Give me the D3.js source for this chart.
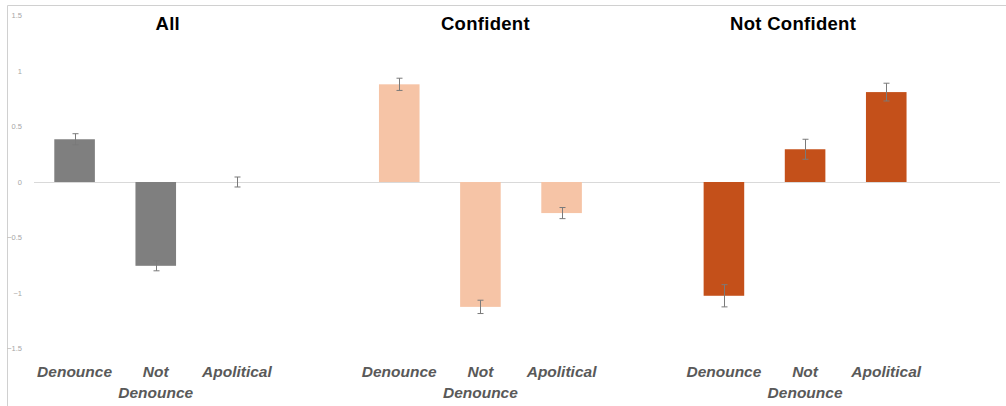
<!DOCTYPE html>
<html>
<head>
<meta charset="utf-8">
<script src="https://cdn.jsdelivr.net/npm/d3@7"></script>
<style>
  html, body { margin: 0; padding: 0; background: #fff; }
  svg { display: block; }
</style>
</head>
<body>
<svg id="chart" width="1006" height="406"></svg>
<script>
// Panels, categories and the plotted means with their error margins
const groups = ["All", "Confident", "Not Confident"];
const categories = ["Denounce", "Not Denounce", "Apolitical"];
const categoryLines = [["Denounce"], ["Not", "Denounce"], ["Apolitical"]];
const meansAll = [0.385, -0.755, 0.0];
const meansConfident = [0.88, -1.125, -0.28];
const meansNotConfident = [-1.025, 0.295, 0.81];
const errAll = [0.05, 0.045, 0.045];
const errConfident = [0.055, 0.06, 0.05];
const errNotConfident = [0.1, 0.09, 0.08];
const yTicks = [1.5, 1, 0.5, 0, -0.5, -1, -1.5];
const groupColors = ["#7f7f7f", "#f6c4a6", "#c4501a"];
const titleShift = [12, 5, -12];

const means = [meansAll, meansConfident, meansNotConfident];
const errs = [errAll, errConfident, errNotConfident];
const rows = [];
groups.forEach((g, gi) => categories.forEach((c, ci) => {
  rows.push({ group: g, gi, cat: c, ci, value: means[gi][ci], err: errs[gi][ci] });
}));

const svg = d3.select("#chart");
const plotLeft = 34, plotRight = 1008, baselineEnd = 1000;

const y = d3.scaleLinear().domain([-1.5, 1.5]).range([348.5, 15.5]);
const xGroup = d3.scaleBand().domain(groups).range([plotLeft, plotRight]);
const slotWidth = xGroup.bandwidth() * 3 / 4;
const xCat = d3.scaleBand().domain(categories).range([0, slotWidth])
  .paddingInner(0.5).paddingOuter(0.25);
const cx = d => xGroup(d.group) + xCat(d.cat) + xCat.bandwidth() / 2;

// outer frame
svg.append("path")
  .attr("d", `M7.5,420 V5.5 H1010`)
  .attr("fill", "none").attr("stroke", "#d0d0d0").attr("stroke-width", 1);

// y axis labels
const yAxis = d3.axisLeft(y).tickValues(yTicks).tickSize(0).tickFormat(d3.format("~g"));
const ya = svg.append("g").attr("transform", "translate(22,0)").call(yAxis);
ya.select(".domain").remove();
ya.selectAll("text")
  .attr("x", 0)
  .attr("fill", "#a6a6a6")
  .style("font-family", "'Liberation Sans', Arial, sans-serif")
  .style("font-size", "7.5px");

// zero baseline
svg.append("line")
  .attr("x1", plotLeft).attr("x2", baselineEnd)
  .attr("y1", y(0) + 0.5).attr("y2", y(0) + 0.5)
  .attr("stroke", "#d9d9d9").attr("stroke-width", 1);

// bars
svg.append("g").selectAll("rect").data(rows.filter(d => d.value !== 0)).join("rect")
  .attr("x", d => xGroup(d.group) + xCat(d.cat))
  .attr("width", xCat.bandwidth())
  .attr("y", d => y(Math.max(0, d.value)))
  .attr("height", d => Math.abs(y(d.value) - y(0)))
  .attr("fill", d => groupColors[d.gi]);

// error bars
const eb = svg.append("g").attr("stroke", "#7a7a7a").attr("stroke-width", 1);
rows.forEach(d => {
  const x0 = Math.round(cx(d)) + 0.5;
  const top = y(d.value + d.err), bot = y(d.value - d.err);
  eb.append("line").attr("x1", x0).attr("x2", x0).attr("y1", top).attr("y2", bot);
  [top, bot].forEach(v => eb.append("line")
    .attr("x1", x0 - 3).attr("x2", x0 + 3).attr("y1", v).attr("y2", v));
});

// panel titles
svg.append("g").selectAll("text").data(groups).join("text")
  .attr("x", (g, i) => xGroup(g) + xCat("Not Denounce") + xCat.bandwidth() / 2 + titleShift[i])
  .attr("y", 30)
  .attr("text-anchor", "middle")
  .attr("fill", "#000")
  .style("font-family", "'Liberation Sans', Arial, sans-serif")
  .style("font-weight", "bold")
  .style("font-size", "18.5px")
  .style("letter-spacing", "0.3px")
  .text(g => g);

// category labels under each bar
const lab = svg.append("g")
  .style("font-family", "'Liberation Sans', Arial, sans-serif")
  .style("font-weight", "bold")
  .style("font-style", "italic")
  .style("font-size", "15.5px")
  .attr("fill", "#595959")
  .attr("text-anchor", "middle");
rows.forEach(d => {
  const t = lab.append("text").attr("x", cx(d)).attr("y", 377);
  categoryLines[d.ci].forEach((line, li) => {
    t.append("tspan").attr("x", cx(d)).attr("dy", li === 0 ? 0 : 21).text(line);
  });
});
</script>
</body>
</html>
